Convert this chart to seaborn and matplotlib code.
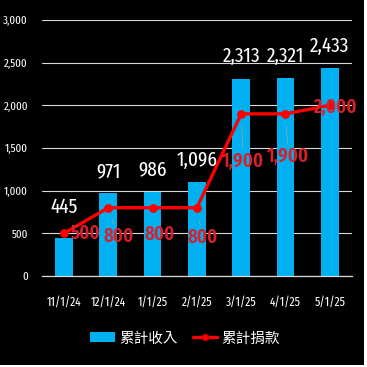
import pandas as pd
import matplotlib.pyplot as plt
import seaborn as sns
from matplotlib.patches import Patch, Rectangle
from matplotlib.lines import Line2D

# Chart data
dates = ['11/1/24', '12/1/24', '1/1/25', '2/1/25', '3/1/25', '4/1/25', '5/1/25']
income = [445, 971, 986, 1096, 2313, 2321, 2433]
donation = [500, 800, 800, 800, 1900, 1900, 2000]

df = pd.DataFrame({'date': dates, 'income': income, 'donation': donation})

sns.set_style("dark")
plt.rcParams['font.family'] = ['Fira Sans Extra Condensed', 'Noto Sans CJK TC', 'DejaVu Sans']

fig = plt.figure(figsize=(3.67, 3.67), dpi=100, facecolor='white')
fig.add_artist(Rectangle((0, 0.006), 0.992, 0.994, transform=fig.transFigure,
                         facecolor='black', edgecolor='none', zorder=-5))
ax = fig.add_axes([0.114, 0.248, 0.845, 0.6975])
ax.set_facecolor('black')

blue = '#00B0F0'
red = '#FF0000'

# Bars
sns.barplot(data=df, x='date', y='income', color=blue, width=0.4,
            saturation=1, linewidth=0, edgecolor='none', ax=ax, zorder=2)

# Line with markers
sns.pointplot(data=df, x='date', y='donation', color=red, markers='o',
              markersize=4.5, linewidth=2.4, ax=ax, zorder=3)
for coll in ax.collections:
    coll.set_edgecolor('#C00000')

ax.set_xlim(-0.5, 6.5)
ax.set_ylim(0, 3000)
ax.set_yticks(range(0, 3001, 500))
ax.set_yticklabels([f'{v:,}' for v in range(0, 3001, 500)])
ax.grid(axis='y', color='#D9D9D9', linewidth=0.8, zorder=0)
ax.grid(axis='x', visible=False)
ax.set_axisbelow(True)
ax.set_xlabel('')
ax.set_ylabel('')

for s in ['top', 'right', 'left']:
    ax.spines[s].set_visible(False)
ax.spines['bottom'].set_color('#D9D9D9')
ax.spines['bottom'].set_linewidth(0.9)

ax.tick_params(axis='y', length=0, pad=10, colors='white', labelsize=8.5)
ax.tick_params(axis='x', length=0, pad=14, colors='white', labelsize=9)
# tick marks between categories
ax.set_xticks([i - 0.5 for i in range(8)], minor=True)
ax.tick_params(axis='x', which='minor', length=4, color='#D9D9D9', width=0.9)

# Bar value labels
for i, v in enumerate(income):
    dy = 31 if i == 0 else 22
    ax.annotate(f'{v:,}', (i, v), xytext=(0, dy), textcoords='offset pixels',
                ha='center', va='center', color='white', fontsize=15, zorder=5)

# Line value labels (offset in pixels, leader line or not)
offsets = [(22, 0, False), (10, -29, True), (7, -27, False), (6, -30, True),
           (2, -47, True), (3, -42, True), (5, -2, False)]
for i, v in enumerate(donation):
    dx, dy, lead = offsets[i]
    props = dict(arrowstyle='-', color='#A6A6A6', lw=0.5, shrinkA=0, shrinkB=9) if lead else None
    ax.annotate(f'{v:,}', (i, v), xytext=(dx, dy), textcoords='offset pixels',
                ha='center', va='center', color='#DA1E2A', fontsize=14.5,
                fontweight='semibold', arrowprops=props, zorder=6)

# Legend
handles = [Patch(facecolor=blue, edgecolor='none'),
           Line2D([0], [0], color=red, lw=2.4, marker='o', markersize=4.5,
                  markeredgecolor='#C00000')]
leg = fig.legend(handles, ['累計收入', '累計捐款'], loc='center',
                 bbox_to_anchor=(0.505, 0.078), ncol=2, frameon=False,
                 prop={'family': ['Noto Sans CJK TC', 'DejaVu Sans'], 'size': 10.5},
                 handlelength=1.7, handletextpad=0.3, columnspacing=1.0)
for t in leg.get_texts():
    t.set_color('white')

plt.savefig('out.png', dpi=100, facecolor=fig.get_facecolor())
